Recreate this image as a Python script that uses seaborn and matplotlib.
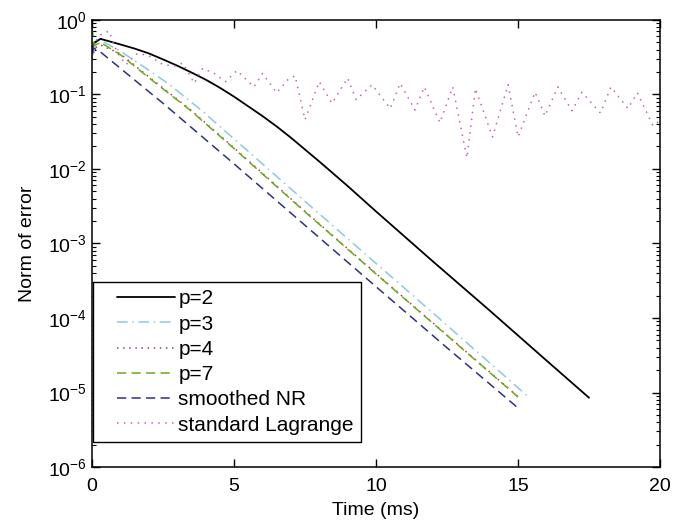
import numpy as np
import pandas as pd
import matplotlib
matplotlib.use("Agg")
import matplotlib.pyplot as plt
import seaborn as sns
from matplotlib.ticker import LogLocator, NullFormatter, FixedLocator
from matplotlib.legend_handler import HandlerLine2D

# time axis (ms) and error norms
t_p2 = [0, 0.1, 0.3, 1, 1.5, 2, 2.5, 3, 3.5, 4, 4.5, 5, 5.5, 6, 6.5, 7, 7.5, 8,
        9, 10, 12, 14, 16, 17.5]
err_p2 = [0.42, 0.50, 0.556, 0.468, 0.412, 0.355, 0.295, 0.243, 0.197, 0.158,
          0.123, 0.0933, 0.0692, 0.0513, 0.0372, 0.0263, 0.0182, 0.0126,
          5.9e-3, 2.69e-3, 5.75e-4, 1.26e-4, 2.69e-5, 8.5e-6]

t_p3 = [0, 0.15, 0.4, 1, 1.9, 2.7, 3.9, 6, 8, 10, 12, 14, 15.4]
err_p3 = [0.32, 0.47, 0.51, 0.38, 0.224, 0.138, 0.059, 0.0117, 2.5e-3, 5.4e-4,
          1.17e-4, 2.5e-5, 8.5e-6]

t_p4 = [0, 0.1, 0.3, 1, 2.15, 3.45, 5, 7.43, 10, 12, 15]
err_p4 = [0.30, 0.42, 0.46, 0.35, 0.155, 0.063, 0.0192, 2.85e-3, 3.95e-4, 8.6e-5, 8.8e-6]

t_p7 = [0, 0.08, 0.3, 1, 2.15, 3.45, 5, 7.43, 10, 12, 15]
err_p7 = [0.80, 0.45, 0.50, 0.34, 0.151, 0.0617, 0.0188, 2.8e-3, 3.9e-4, 8.5e-5, 8.7e-6]

t_nr = [0, 0.05, 0.3, 2.5, 5, 7.57, 10, 12.5, 15]
err_nr = [0.35, 0.42, 0.37, 0.076, 0.0117, 1.66e-3, 2.63e-4, 3.98e-5, 6.2e-6]

t_lag = [0, 0.3, 0.6, 0.9, 1.2, 1.6, 2.0, 2.5, 2.9, 3.2, 3.6, 3.9, 4.3, 4.7, 5.1,
         5.7, 6.0, 6.5, 6.9, 7.15, 7.5, 8.0, 8.45, 9.0, 9.3, 9.86, 10.5, 10.85,
         11.37, 11.7, 12.25, 12.7, 13.2, 13.5, 14.1, 14.65, 15.0, 15.6, 15.95,
         16.4, 16.9, 17.25, 17.9, 18.27, 18.87, 19.2, 19.75, 20]
err_lag = [0.447, 0.631, 0.708, 0.355, 0.251, 0.355, 0.331, 0.251, 0.240, 0.263,
           0.141, 0.224, 0.191, 0.148, 0.209, 0.126, 0.191, 0.105, 0.158, 0.178,
           0.0457, 0.148, 0.0759, 0.166, 0.0851, 0.135, 0.0646, 0.141, 0.0617,
           0.126, 0.0417, 0.126, 0.0141, 0.120, 0.0269, 0.135, 0.0269, 0.107,
           0.0513, 0.126, 0.0603, 0.107, 0.0562, 0.126, 0.0646, 0.105, 0.038, 0.0447]

x_ticks = [0, 5, 10, 15, 20]
y_ticks = [1e-6, 1e-5, 1e-4, 1e-3, 1e-2, 1e-1, 1]


class PaddedLine(HandlerLine2D):
    """legend line that leaves a gap on its left, like matlab legends"""
    def get_xdata(self, legend, xdescent, ydescent, width, height, fontsize):
        pad = 0.8 * fontsize
        xdata = np.array([-xdescent + pad, -xdescent + width])
        return xdata, xdata


sns.set_style("ticks")
plt.rcParams['font.family'] = ['Liberation Sans', 'DejaVu Sans']
plt.rcParams['mathtext.fontset'] = 'custom'
plt.rcParams['mathtext.rm'] = 'Liberation Sans'
for key in ['text.color', 'axes.labelcolor', 'xtick.color', 'ytick.color']:
    plt.rcParams[key] = 'black'

fig = plt.figure(figsize=(6.97, 5.23), dpi=100)
ax = fig.add_axes([0.132, 0.107, 0.815, 0.855])

series = [
    (t_p2, err_p2, 'p=2', 'black', '-', 1.3),
    (t_p3, err_p3, 'p=3', '#8cc8e6', (0, (7, 3, 1, 3)), 1.1),
    (t_p4, err_p4, 'p=4', '#b83a4a', (0, (1, 3)), 1.1),
    (t_p7, err_p7, 'p=7', '#6aaa1e', (0, (6, 3.5)), 1.1),
    (t_nr, err_nr, 'smoothed NR', '#2e2e8c', (0, (6, 3.5)), 1.1),
    (t_lag, err_lag, 'standard Lagrange', '#c065b5', (0, (1, 3.5)), 1.1),
]

for tt, ee, lab, col, ls, lw in series:
    df = pd.DataFrame({'t': tt, 'err': ee})
    sns.lineplot(data=df, x='t', y='err', ax=ax, color=col, linestyle=ls,
                 linewidth=lw, label=lab, sort=False)

ax.set_yscale('log')
ax.set_xlim(0, 20)
ax.set_ylim(1e-6, 1)
ax.set_xticks(x_ticks)
ax.yaxis.set_major_locator(FixedLocator(y_ticks))
ax.yaxis.set_minor_locator(LogLocator(base=10, subs=np.arange(2, 10), numticks=20))
ax.yaxis.set_minor_formatter(NullFormatter())

ax.tick_params(which='both', direction='in', top=True, right=True, labelsize=14)
ax.tick_params(which='major', length=6, width=1)
ax.tick_params(which='minor', length=3, width=0.8)
ax.tick_params(axis='x', which='major', pad=8)
for sp in ax.spines.values():
    sp.set_linewidth(1.1)
    sp.set_color('black')

ax.set_xlabel('Time (ms)', fontsize=14, labelpad=5)
ax.set_ylabel('Norm of error', fontsize=14, labelpad=9)

handles, labels = ax.get_legend_handles_labels()
leg = ax.legend(handles, labels, loc='lower left', bbox_to_anchor=(0.0, 0.054),
                fontsize=15, frameon=True, fancybox=False, framealpha=1,
                edgecolor='black', borderaxespad=0.05, handlelength=3.6,
                labelspacing=0.3, borderpad=0.35, handletextpad=0.15,
                handler_map={h: PaddedLine() for h in handles})
leg.get_frame().set_linewidth(1.0)

fig.savefig('out.png', dpi=100)
